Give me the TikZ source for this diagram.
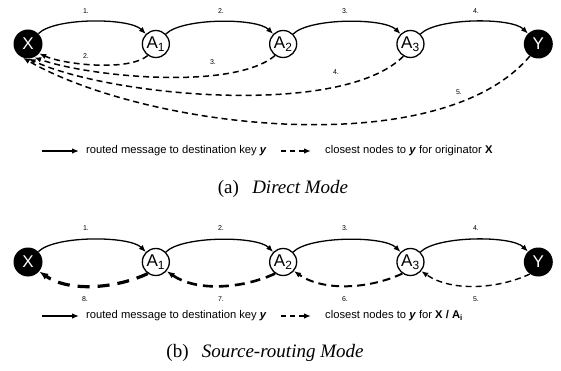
\documentclass[tikz,border=0pt]{standalone}
\usepackage{fontspec}
\setmainfont{Liberation Sans}
\newfontfamily\capfont{Liberation Serif}
\usetikzlibrary{arrows.meta,positioning}
\begin{document}
\begin{tikzpicture}[x=1pt,y=-1pt,node distance=99pt,>={Latex[length=7pt,width=5.5pt]},
 blk/.style={circle,fill=black,text=white,minimum size=29pt,inner sep=0pt,font=\fontsize{17}{17}\selectfont},
 wht/.style={circle,draw,line width=1.3pt,fill=white,minimum size=27pt,inner sep=0pt,font=\fontsize{17}{17}\selectfont},
 fwd/.style={->,line width=1.3pt,out=45,in=135,looseness=0.55},
 back/.style={->,line width=1.5pt,dash pattern=on 6pt off 4pt},
 num/.style={font=\fontsize{7}{7}\selectfont,inner sep=0pt},
 lgd/.style={font=\fontsize{11.2}{11.2}\selectfont,inner sep=0pt},
 captxt/.style={font=\capfont\fontsize{19}{19}\selectfont}]
\useasboundingbox (0,0) rectangle (561,371);
% direct mode
\node[blk] at (28,44) (x) {X};
\node[wht,right=of x] (a1) {A\textsubscript{1}};
\node[wht,right=of a1] (a2) {A\textsubscript{2}};
\node[wht,right=of a2] (a3) {A\textsubscript{3}};
\node[blk,right=of a3] (y) {Y};
\draw[fwd] (x) to (a1);\draw[fwd] (a1) to (a2);\draw[fwd] (a2) to (a3);\draw[fwd] (a3) to (y);
\node[num] (f1) at (86,11) {1.};\node[num] (f2) at (221,11) {2.};
\node[num] (f3) at (345,11) {3.};\node[num] (f4) at (476,11) {4.};
\draw[back] (a1.-125) to[out=-140,in=-25,looseness=0.6] (x.-40);
\draw[back] (a2.-125) to[out=-140,in=-20,looseness=0.59] (x.-65);
\draw[back] (a3.-120) to[out=-135,in=-25,looseness=0.6] (x.-88);
\draw[back] (y.-125) to[out=-130,in=-30,looseness=0.71] (x.-110);
\node[num] (r2) at (86,56) {2.};\node[num] (r3) at (213,62) {3.};
\node[num] (r4) at (336,72) {4.};\node[num] (r5) at (459,92) {5.};
\coordinate (ka) at (42,151);\coordinate (kb) at (79,151);
\coordinate (kc) at (281,151);\coordinate (kd) at (311,151);
\draw[->,line width=1.3pt] (ka) -- (kb);
\node[lgd,right=7pt of kb] (ka1) {routed message to destination key \textbf{\textit{y}}};
\draw[->,line width=1.5pt,dash pattern=on 5pt off 4pt] (kc) -- (kd);
\node[lgd,right=14pt of kd] (ka2) {closest nodes to \textbf{\textit{y}} for originator \textbf{X}};
\node[captxt] (capa) at (283,189) {(a)\hspace{0.7em}\textit{Direct Mode}};
% source-routing mode
\node[blk] at (28,262) (xb) {X};
\node[wht,right=of xb] (a1b) {A\textsubscript{1}};
\node[wht,right=of a1b] (a2b) {A\textsubscript{2}};
\node[wht,right=of a2b] (a3b) {A\textsubscript{3}};
\node[blk,right=of a3b] (yb) {Y};
\draw[fwd] (xb) to (a1b);\draw[fwd] (a1b) to (a2b);\draw[fwd] (a2b) to (a3b);\draw[fwd] (a3b) to (yb);
\node[num] (g1) at (86,228) {1.};\node[num] (g2) at (221,228) {2.};
\node[num] (g3) at (345,228) {3.};\node[num] (g4) at (476,228) {4.};
\draw[back,line width=3.2pt,dash pattern=on 12pt off 8pt,>={Latex[length=9pt,width=7pt]}] (a1b.-125) to[out=-155,in=-35,looseness=0.85] (xb.-40);
\draw[back,line width=2.6pt,dash pattern=on 10pt off 6pt,>={Latex[length=8pt,width=6pt]}] (a2b.-125) to[out=-155,in=-35,looseness=0.85] (a1b.-40);
\draw[back,line width=2pt,dash pattern=on 8pt off 5pt] (a3b.-125) to[out=-155,in=-35,looseness=0.85] (a2b.-40);
\draw[back,line width=1.4pt,dash pattern=on 6pt off 4pt] (yb.-125) to[out=-155,in=-35,looseness=0.85] (a3b.-40);
\node[num] (s8) at (85,299) {8.};\node[num] (s7) at (221,299) {7.};
\node[num] (s6) at (345,299) {6.};\node[num] (s5) at (476,299) {5.};
\coordinate (kab) at (42,316);\coordinate (kbb) at (79,316);
\coordinate (kcb) at (281,316);\coordinate (kdb) at (311,316);
\draw[->,line width=1.3pt] (kab) -- (kbb);
\node[lgd,right=7pt of kbb] (kb1) {routed message to destination key \textbf{\textit{y}}};
\draw[->,line width=1.5pt,dash pattern=on 5pt off 4pt] (kcb) -- (kdb);
\node[lgd,right=14pt of kdb] (kb2) {closest nodes to \textbf{\textit{y}} for \textbf{X / A\textsubscript{i}}};
\node[captxt] (capb) at (265,353) {(b)\hspace{0.7em}\textit{Source-routing Mode}};
\end{tikzpicture}
\end{document}
